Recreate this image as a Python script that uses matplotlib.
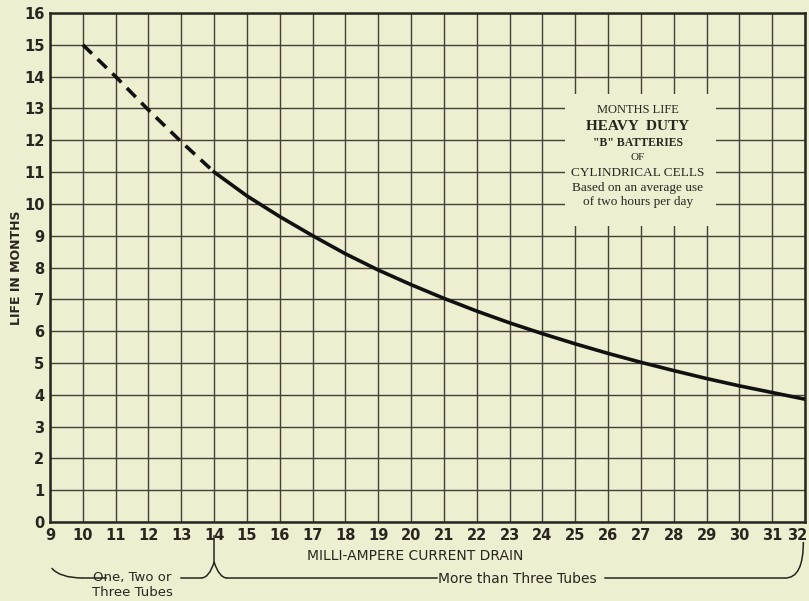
import matplotlib
matplotlib.use("Agg")
import matplotlib.pyplot as plt
from matplotlib.patches import Rectangle
from matplotlib.path import Path
from matplotlib.patches import PathPatch
import matplotlib.transforms as mtransforms

# Milli-ampere drain vs. months of life
drain_dashed = [10, 11, 12, 13, 14]
life_dashed = [15.0, 14.0, 12.95, 11.95, 11.0]
drain_solid = [14, 15, 16, 17, 18, 19, 20, 21, 22, 23, 24, 25, 26, 27, 28,
               29, 30, 31, 32]
life_solid = [11.0, 10.25, 9.6, 9.0, 8.43, 7.92, 7.46, 7.03, 6.63, 6.26,
              5.92, 5.6, 5.3, 5.02, 4.76, 4.51, 4.28, 4.07, 3.86]
x_ticks = list(range(9, 33))
y_ticks = list(range(0, 17))

paper = "#eeeed0"
ink = "#2a2520"
grid_ink = "#45403a"
cond = ["Liberation Sans Narrow", "DejaVu Sans"]
serif = ["Liberation Serif", "DejaVu Serif"]

W, H = 809, 601
fig = plt.figure(figsize=(W / 100, H / 100), dpi=100, facecolor=paper)
L, R, T, B = 50, 805, 13, 522
ax = fig.add_axes([L / W, (H - B) / H, (R - L) / W, (B - T) / H])
ax.set_facecolor(paper)
ax.set_xlim(9, 32)
ax.set_ylim(0, 16)

# grid
for xv in x_ticks:
    ax.axvline(xv, color=grid_ink, lw=1.0, zorder=1)
for yv in y_ticks:
    ax.axhline(yv, color=grid_ink, lw=1.0, zorder=1)

# title panel, blanking the grid behind it
ax.add_patch(Rectangle((24.7, 9.3), 4.6, 4.15, facecolor=paper,
                       edgecolor="none", zorder=2))

ax.plot(drain_dashed, life_dashed, color="#111", lw=2.6, zorder=4,
        dashes=(3.5, 2.2), solid_capstyle="butt")
ax.plot(drain_solid, life_solid, color="#111", lw=2.6, zorder=4,
        solid_joinstyle="round")

for s in ax.spines.values():
    s.set_color(ink)
    s.set_linewidth(1.8)

ax.set_xticks(x_ticks)
ax.set_yticks(y_ticks)
ax.tick_params(length=0, colors=ink, labelsize=10.5, pad=4)
for lab in ax.get_xticklabels() + ax.get_yticklabels():
    lab.set_fontfamily(cond)
    lab.set_fontweight("bold")
ax.get_xticklabels()[-1].set_horizontalalignment("right")
ax.get_xticklabels()[-1].set_transform(
    ax.get_xticklabels()[-1].get_transform()
    + mtransforms.ScaledTranslation(2 / 100, 0, fig.dpi_scale_trans))


def fx(px):
    return px / W


def fy(py):
    return 1 - py / H


# panel text
cx = 638
panel = [
    ("MONTHS LIFE", 110, 9, "normal"),
    ("HEAVY  DUTY", 127, 11, "bold"),
    ('"B" BATTERIES', 143, 8.5, "bold"),
    ("OF", 158, 8, "normal"),
    ("CYLINDRICAL CELLS", 173, 9.5, "normal"),
    ("Based on an average use", 188, 9.5, "normal"),
    ("of two hours per day", 202, 9.5, "normal"),
]
for txt, py, size, weight in panel:
    fig.text(fx(cx), fy(py), txt, ha="center", va="center", fontsize=size,
             fontweight=weight, family=serif, color=ink, zorder=5)

fig.text(fx(17), fy(268), "LIFE IN MONTHS", rotation=90, ha="center",
         va="center", fontsize=9, fontweight="bold", family=cond, color=ink)
fig.text(fx(415), fy(556), "MILLI-AMPERE CURRENT DRAIN", ha="center",
         va="center", fontsize=10, family=cond, color=ink)

# brackets beneath the axis
tr = mtransforms.blended_transform_factory(ax.transData, fig.transFigure)
ybar = fy(578)
ytop = fy(562)
ystem = fy(536)
blw = 1.1

fig.add_artist(plt.Line2D([14, 14], [ystem, ytop], transform=tr,
                          color=ink, lw=blw))
# left bracket
left_path = Path([(9.05, fy(568)), (9.3, ybar), (10.0, ybar)],
                 [Path.MOVETO, Path.CURVE3, Path.CURVE3])
fig.add_artist(PathPatch(left_path, transform=tr, fill=False, color=ink,
                         lw=blw))
fig.add_artist(plt.Line2D([10.0, 10.7], [ybar, ybar], transform=tr,
                          color=ink, lw=blw))
fig.add_artist(plt.Line2D([13.0, 13.6], [ybar, ybar], transform=tr,
                          color=ink, lw=blw))
mid_l = Path([(13.6, ybar), (13.85, ybar), (14, ytop)],
             [Path.MOVETO, Path.CURVE3, Path.CURVE3])
mid_r = Path([(14, ytop), (14.15, ybar), (14.4, ybar)],
             [Path.MOVETO, Path.CURVE3, Path.CURVE3])
for p in (mid_l, mid_r):
    fig.add_artist(PathPatch(p, transform=tr, fill=False, color=ink, lw=blw))
fig.add_artist(plt.Line2D([14.4, 20.8], [ybar, ybar], transform=tr,
                          color=ink, lw=blw))
fig.add_artist(plt.Line2D([25.9, 31.4], [ybar, ybar], transform=tr,
                          color=ink, lw=blw))
right_path = Path([(31.4, ybar), (31.95, ybar), (31.95, fy(542))],
                  [Path.MOVETO, Path.CURVE3, Path.CURVE3])
fig.add_artist(PathPatch(right_path, transform=tr, fill=False, color=ink,
                         lw=blw))

fig.text(fx(132), fy(577), "One, Two or", ha="center", va="center",
         fontsize=9.5, family=cond, color=ink)
fig.text(fx(132), fy(593), "Three Tubes", ha="center", va="center",
         fontsize=9.5, family=cond, color=ink)
fig.text(fx(517), fy(579), "More than Three Tubes", ha="center", va="center",
         fontsize=10, family=cond, color=ink)

fig.savefig("out.png", dpi=100, facecolor=paper)
